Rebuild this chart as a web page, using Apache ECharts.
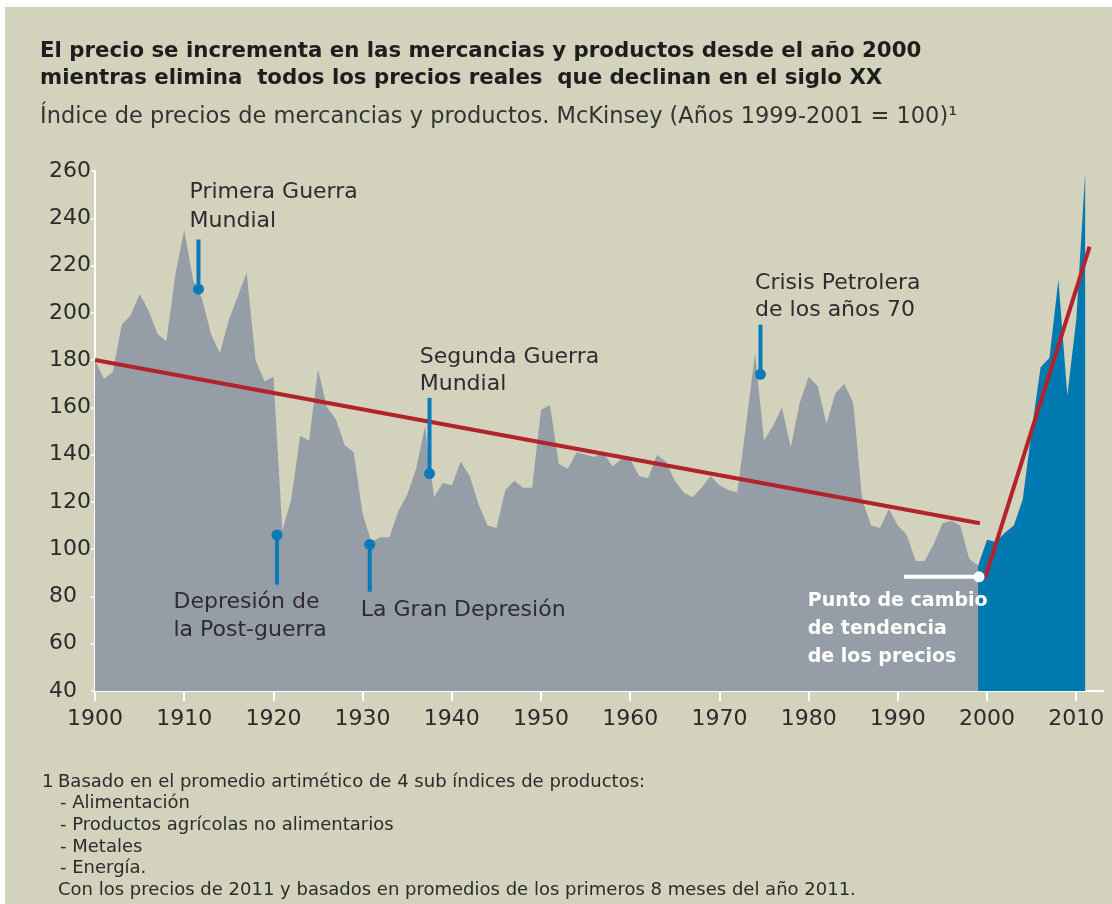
<!DOCTYPE html>
<html><head><meta charset="utf-8">
<script src="https://cdn.jsdelivr.net/npm/echarts@6/dist/echarts.min.js"></script>
<style>
html,body{margin:0;padding:0;background:#fff;width:1112px;height:904px;overflow:hidden;}
#bg{position:absolute;left:5px;top:7px;width:1107px;height:897px;background:#d3d2bd;}
#chart{position:absolute;left:0;top:0;width:1112px;height:904px;}
</style></head><body><div id="bg"></div><div id="chart"></div>
<script>
// ---------- DATA ----------
const historicStartYear = 1900;
const historicValues = [
  180,172,175,195,199,208,201,191,188,216,   // 1900-1909
  235,214,206,191,183,197,207,217,180,171,   // 1910-1919
  173,108,121,148,146,176,160,155,144,141,   // 1920-1929
  115,103,105,105,116,123,134,152,122,128,   // 1930-1939
  127,137,131,119,110,109,125,129,126,126,   // 1940-1949
  159,161,136,134,141,140,139,141,135,138,   // 1950-1959
  138,131,130,140,137,129,124,122,126,131,   // 1960-1969
  127,125,124,153,183,146,152,160,143,162,   // 1970-1979
  173,169,153,166,170,162,121,110,109,117,   // 1980-1989
  110,106,95,95,102,111,112,110,96,93        // 1990-1999
];
const recentStartYear = 1999;
const recentValues = [93,104,103,107,110,121,150,177,181,214,165,197,259]; // 1999-2011
const xTickYears = [1900,1910,1920,1930,1940,1950,1960,1970,1980,1990,2000,2010];
const yMin = 40, yMax = 260, yStep = 20;
const trendDecline = [[1900,180],[1999.2,111]];
const trendRise = [[1999.8,88],[2011.5,228]];
const turningPoint = [[1990.7,88.3],[1999.1,88.3]];   // white line, dot at the end
// event markers: year, line end value, dot value
const eventYears  = [1911.6, 1920.4, 1930.8, 1937.5, 1974.6];
const eventLineTo = [231, 85, 82, 164, 195];
const eventDotAt  = [210, 106, 102, 132, 174];
const eventLabels = [
  ["Primera Guerra","Mundial"],
  ["Depresión de","la Post-guerra"],
  ["La Gran Depresión"],
  ["Segunda Guerra","Mundial"],
  ["Crisis Petrolera","de los años 70"]
];
const eventLabelAnchors = [[1910.6,257.2],[1908.8,83.3],[1929.8,80.2],[1936.4,187.1],[1974.0,218.2]];
const eventLabelLineHeights = [29,27.5,28,27,27];
const turningLabel = ["Punto de cambio","de tendencia","de los precios"];
const turningLabelAnchor = [1979.9,84];

const titleLines = [
  "El precio se incrementa en las mercancias y productos desde el año 2000",
  "mientras elimina  todos los precios reales  que declinan en el siglo XX"
];
const subtitle = "Índice de precios de mercancias y productos. McKinsey (Años 1999-2001 = 100)¹";
const footNumber = "1";
const footLines = [
  "Basado en el promedio artimético de 4 sub índices de productos:",
  "- Alimentación",
  "- Productos agrícolas no alimentarios",
  "- Metales",
  "- Energía.",
  "Con los precios de 2011 y basados en promedios de los primeros 8 meses del año 2011."
];

// ---------- BUILD ----------
const FONT = "'DejaVu Sans'";
const TXT = '#2b2b2b';
const historicData = historicValues.map((v,i)=>[historicStartYear+i, v]);
const recentData = recentValues.map((v,i)=>[recentStartYear+i, v]);

const markerSeries = eventYears.map((yr,i)=>({
  type:'line', silent:true, z:6,
  data:[{value:[yr, eventLineTo[i]], symbol:'none', symbolSize:0},
        {value:[yr, eventDotAt[i]], symbol:'circle', symbolSize:11}],
  lineStyle:{color:'#0a7bb8', width:4, cap:'butt'},
  itemStyle:{color:'#0a7bb8', borderWidth:0},
  showSymbol:true
}));

const chart = echarts.init(document.getElementById('chart'), null, {renderer:'canvas'});
chart.setOption({
  animation:false,
  backgroundColor:'transparent',
  grid:{left:95, right:9, top:171, bottom:213, containLabel:false},
  xAxis:{
    type:'value', min:1900, max:2013,
    axisLine:{show:true, onZero:false, lineStyle:{color:'#ffffff', width:2}},
    axisTick:{show:true, length:10, customValues:xTickYears, lineStyle:{color:'#ffffff', width:2}},
    axisLabel:{customValues:xTickYears, margin:17, fontSize:22, color:TXT, fontFamily:FONT,
               formatter:v=>String(v)},
    splitLine:{show:false}
  },
  yAxis:{
    type:'value', min:yMin, max:yMax, interval:yStep,
    axisLine:{show:true, onZero:false, lineStyle:{color:'#ffffff', width:2}},
    axisTick:{show:true, length:4, lineStyle:{color:'#ffffff', width:1.5}},
    axisLabel:{align:'left', margin:46, fontSize:22, color:TXT, fontFamily:FONT},
    splitLine:{show:false}
  },
  series:[
    {type:'line', data:historicData, symbol:'none', silent:true, z:1,
     lineStyle:{width:0}, areaStyle:{color:'#959da7', opacity:1}},
    {type:'line', data:recentData, symbol:'none', silent:true, z:2,
     lineStyle:{width:0}, areaStyle:{color:'#0079b0', opacity:1}},
    {type:'line', data:trendDecline, symbol:'none', silent:true, z:4,
     lineStyle:{color:'#b3232a', width:4}},
    {type:'line', data:trendRise, symbol:'none', silent:true, z:4,
     lineStyle:{color:'#b3232a', width:4}},
    {type:'line', silent:true, z:5,
     data:[{value:turningPoint[0], symbol:'none', symbolSize:0},
           {value:turningPoint[1], symbol:'circle', symbolSize:11}],
     lineStyle:{color:'#ffffff', width:4}, itemStyle:{color:'#ffffff', borderWidth:0}, showSymbol:true}
  ].concat(markerSeries)
});

// ---------- TEXT ----------
const els = [];
titleLines.forEach((t,i)=>els.push({type:'text', x:40, y:51+i*27.5, silent:true,
  style:{text:t, fill:'#1e1e1e', font:"bold 21.3px "+FONT, textVerticalAlign:'middle'}}));
els.push({type:'text', x:40, y:117, silent:true,
  style:{text:subtitle, fill:'#333333', font:"22.5px "+FONT, textVerticalAlign:'middle'}});
eventLabels.forEach((lines,i)=>{
  const p = chart.convertToPixel({xAxisIndex:0,yAxisIndex:0}, eventLabelAnchors[i]);
  els.push({type:'text', x:p[0], y:p[1], silent:true, z:10,
    style:{text:lines.join('\n'), fill:'#2f2b2e', font:"22px "+FONT,
           lineHeight:eventLabelLineHeights[i], textVerticalAlign:'top'}});
});
{
  const p = chart.convertToPixel({xAxisIndex:0,yAxisIndex:0}, turningLabelAnchor);
  els.push({type:'text', x:p[0], y:p[1], silent:true, z:10,
    style:{text:turningLabel.join('\n'), fill:'#ffffff', font:"bold 19px "+FONT,
           lineHeight:28, textVerticalAlign:'top'}});
}
els.push({type:'text', x:42, y:782, silent:true,
  style:{text:footNumber, fill:TXT, font:"18px "+FONT, textVerticalAlign:'middle'}});
footLines.forEach((t,i)=>{
  const indent = (i>=1 && i<=4) ? 60 : 58;
  els.push({type:'text', x:indent, y:782+i*21.7, silent:true,
    style:{text:t, fill:TXT, font:"18px "+FONT, textVerticalAlign:'middle'}});
});
chart.setOption({graphic:{elements:els}});
</script></body></html>
